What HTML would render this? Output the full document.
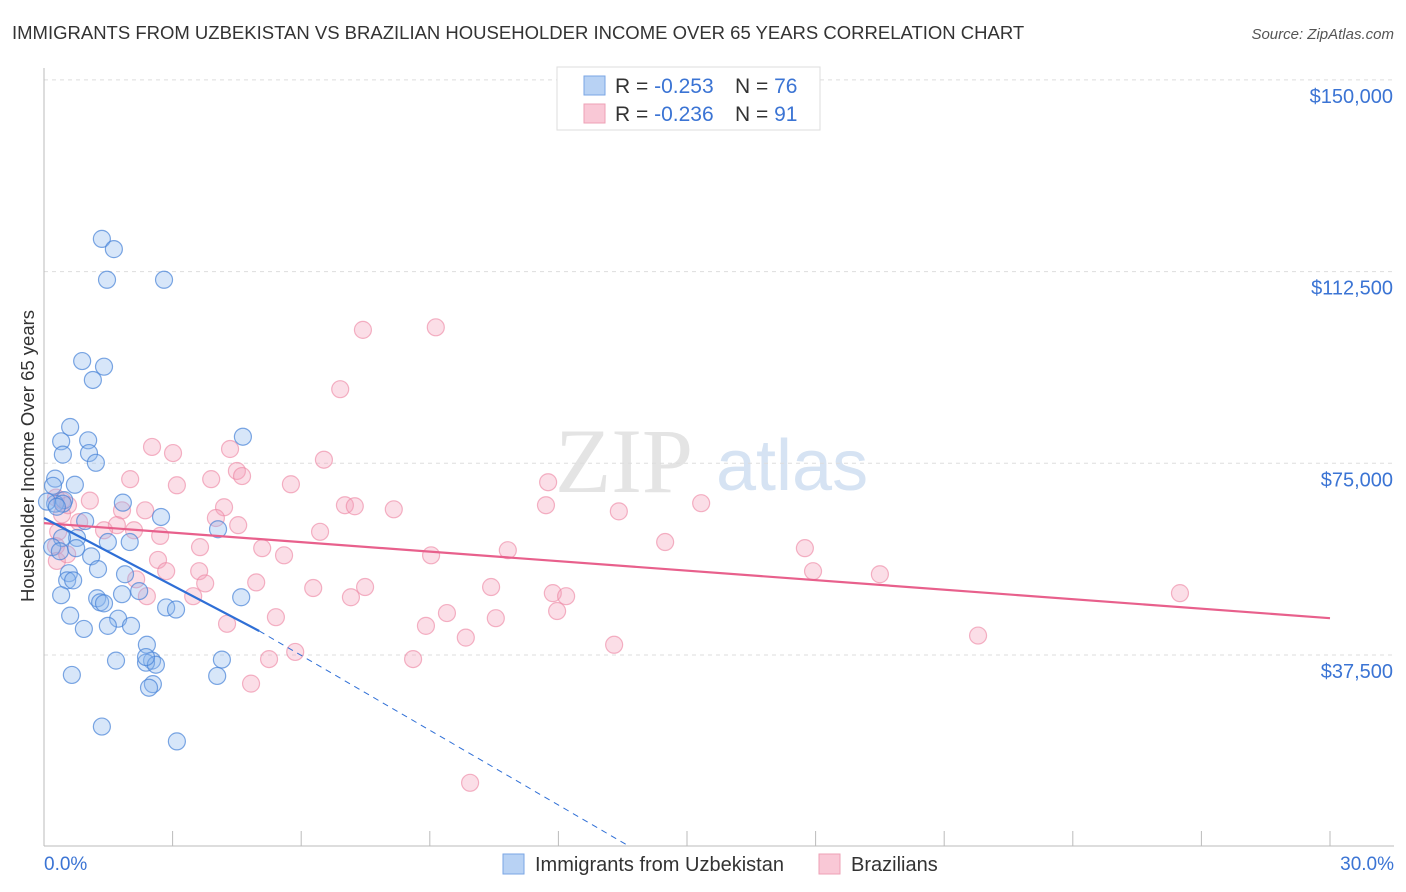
<!DOCTYPE html>
<html><head><meta charset="utf-8">
<style>
body{margin:0;background:#fff;font-family:"Liberation Sans",sans-serif;}
svg{display:block}
</style></head>
<body>
<svg id="chart" width="1406" height="892" xmlns="http://www.w3.org/2000/svg" font-family="Liberation Sans, sans-serif">
<text x="12" y="39" font-size="18.5" fill="#333">IMMIGRANTS FROM UZBEKISTAN VS BRAZILIAN HOUSEHOLDER INCOME OVER 65 YEARS CORRELATION CHART</text>
<text x="1394" y="39" font-size="15" fill="#555" text-anchor="end" font-style="italic">Source: ZipAtlas.com</text>
<text transform="translate(34,456) rotate(-90)" font-size="18.5" fill="#333" text-anchor="middle">Householder Income Over 65 years</text>
<text x="555" y="492" font-size="92" fill="#e4e4e4" font-family="Liberation Serif, serif">ZIP</text>
<text x="716" y="490" font-size="72" fill="#d6e3f3">atlas</text>
<g id="grid"></g>
<g id="axes"></g>
<g id="pts"></g>
<g id="trend"></g>
<g>
<rect x="557" y="67" width="263" height="63" fill="#fff" stroke="#ddd"/>
<rect x="584" y="76" width="21" height="19" fill="#b8d2f4" stroke="#7aa6e4"/>
<rect x="584" y="104" width="21" height="19" fill="#f9c8d6" stroke="#eea0b6"/>
<text x="615" y="93" font-size="21" fill="#333">R = <tspan fill="#3b74d4">-0.253</tspan><tspan x="735">N = </tspan><tspan fill="#3b74d4">76</tspan></text>
<text x="615" y="121" font-size="21" fill="#333">R = <tspan fill="#3b74d4">-0.236</tspan><tspan x="735">N = </tspan><tspan fill="#3b74d4"> 91</tspan></text>
</g>
<g>
<rect x="503" y="854" width="21" height="20" fill="#b8d2f4" stroke="#7aa6e4"/>
<text x="535" y="871" font-size="20" fill="#333">Immigrants from Uzbekistan</text>
<rect x="819" y="854" width="21" height="20" fill="#f9c8d6" stroke="#eea0b6"/>
<text x="851" y="871" font-size="20" fill="#333">Brazilians</text>
</g>
</svg>
<script>
const yTicks=[37500,75000,112500,150000];
const yTickLabels=["$37,500","$75,000","$112,500","$150,000"];
const xTickLabels=["0.0%","30.0%"];
const blueX=[1.35,1.63,1.47,2.8,0.89,1.4,1.14,0.61,4.64,0.4,1.03,1.05,0.44,1.21,0.26,0.21,0.72,0.47,1.84,0.26,0.44,0.07,0.3,2.73,0.96,0.77,0.42,4.06,1.49,2.0,0.19,0.37,0.75,1.1,1.26,1.89,0.58,0.54,0.68,2.22,1.82,0.4,1.24,1.31,1.4,2.85,3.08,4.6,0.61,1.73,0.93,1.49,2.03,2.4,1.68,2.52,2.38,2.61,4.15,0.65,4.04,2.54,2.45,1.35,3.1,2.38];
const blueY=[118900,116900,110900,110900,95000,93900,91300,82100,80200,79300,79500,77000,76700,75100,72000,70600,70800,67800,67300,67100,67100,67500,66500,64500,63700,60400,60400,62100,59600,59600,58600,57800,58400,56800,54300,53300,53500,52100,52100,50000,49400,49200,48600,47800,47600,46800,46400,48800,45200,44600,42600,43200,43200,39500,36400,36400,36000,35600,36600,33600,33400,31800,31100,23500,20600,37100];
const pinkX=[7.44,9.14,6.91,6.53,2.52,3.01,4.34,4.5,4.62,2.01,3.1,3.9,5.76,11.76,15.33,11.71,7.02,7.25,8.16,13.41,4.2,0.28,0.42,1.07,1.82,2.36,0.56,4.01,4.53,2.71,6.44,14.49,17.75,1.7,2.1,3.64,5.09,5.6,9.03,10.82,17.94,19.5,0.28,0.3,0.54,2.66,2.85,3.62,2.15,4.95,3.76,6.28,7.49,10.43,7.16,11.87,12.18,2.4,3.48,5.41,9.4,10.54,11.97,8.91,4.27,9.84,5.86,5.25,8.61,13.3,21.79,26.5,4.83,9.94,0.33,0.82,1.4,0.42];
const pinkY=[101100,101600,89500,75700,78200,77000,77800,73500,72500,71900,70700,71900,70900,71300,67200,66800,66800,66600,66000,65600,66400,68300,67700,67700,65800,65800,66800,64300,62900,60800,61600,59600,58400,62900,61900,58600,58400,57000,57000,58000,53900,53300,58800,55900,57200,56100,53900,53900,52300,51700,51500,50600,50800,50800,48800,49600,49000,49000,49000,44900,45700,44700,46100,43200,43600,40900,38100,36700,36700,39500,41300,49600,31900,12500,61600,63500,61900,65000];
const el=(t,a,p)=>{const e=document.createElementNS("http://www.w3.org/2000/svg",t);for(const k in a)e.setAttribute(k,a[k]);p.appendChild(e);return e;};
const X=v=>44+v/30*1286;
const Y=v=>655-(v-37500)/37500*191.7;
const grid=document.getElementById('grid'),axes=document.getElementById('axes');
yTicks.forEach((t,i)=>{
 const l=el('line',{x1:44,x2:1394,y1:Y(t),y2:Y(t),stroke:'#ddd','stroke-dasharray':'4,4'},grid);
 
 
 const tx=el('text',{x:1393,y:Y(t)+23,'font-size':20,fill:'#3b74d4','text-anchor':'end'},axes);
 tx.textContent=yTickLabels[i];
 
 
});
el('line',{x1:44,x2:44,y1:68,y2:846,stroke:'#bbb'},axes);
el('line',{x1:44,x2:1394,y1:846,y2:846,stroke:'#bbb'},axes);
for(let i=1;i<=10;i++){el('line',{x1:X(i*3),x2:X(i*3),y1:831,y2:846,stroke:'#bbb'},axes);}
[[0,'start'],[30,'end']].forEach((d,i)=>{
 const tx=el('text',{x:i?1394:44,y:870,'font-size':19,fill:'#3b74d4','text-anchor':d[1]},axes);
 tx.textContent=xTickLabels[i];
 
 
});
const pts=document.getElementById('pts');
pinkX.forEach((x,i)=>{const c=el('circle',{cx:X(x),cy:Y(pinkY[i]),r:8.5,fill:'rgba(244,160,185,0.35)',stroke:'rgba(236,130,160,0.6)','stroke-width':1.2},pts);
 
 });
blueX.forEach((x,i)=>{const c=el('circle',{cx:X(x),cy:Y(blueY[i]),r:8.5,fill:'rgba(140,184,238,0.35)',stroke:'rgba(70,130,215,0.7)','stroke-width':1.2},pts);
 
 });
const tr=document.getElementById('trend');
const pl=el('line',{x1:X(0),y1:Y(63300),x2:X(30),y2:Y(44700),stroke:'#e8608c','stroke-width':2.2},tr);


const bl=el('line',{x1:X(0),y1:Y(64300),x2:X(5.02),y2:Y(42200),stroke:'#2f6fd6','stroke-width':2.2},tr);


const bd=el('line',{x1:X(5.02),y1:Y(42200),x2:X(13.67),y2:Y(0),stroke:'#2f6fd6','stroke-width':1,'stroke-dasharray':'6,5'},tr);


</script>
</body></html>
